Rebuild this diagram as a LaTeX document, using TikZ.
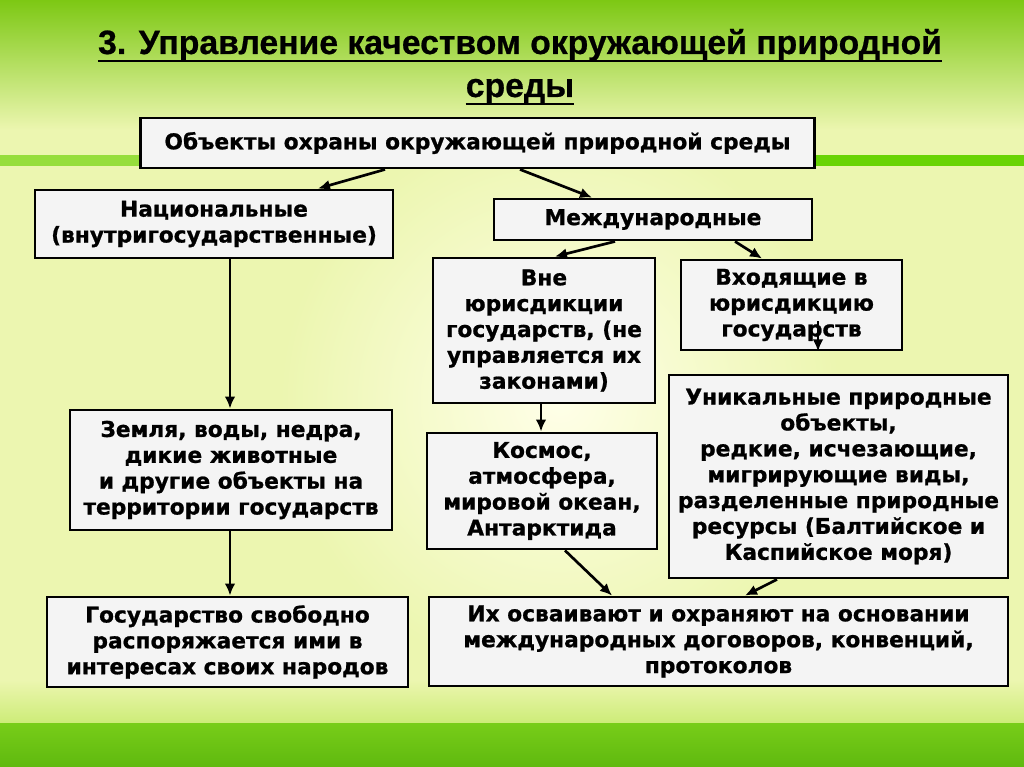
\documentclass[tikz,border=0pt]{standalone}
\usepackage{fontspec}
\usetikzlibrary{arrows.meta,calc}
\newfontfamily\bxfont[BoldFeatures={FakeBold=0.9}]{DejaVu Sans}
\newfontfamily\ttlfont[BoldFeatures={FakeBold=0.6}]{Liberation Sans}
\definecolor{bgbase}{RGB}{236,246,176}
\definecolor{glow}{RGB}{255,255,232}
\definecolor{topg}{RGB}{125,200,20}
\definecolor{topm}{RGB}{195,232,80}
\definecolor{botg1}{RGB}{120,205,25}
\definecolor{botg2}{RGB}{95,185,15}
\definecolor{botm}{RGB}{205,236,120}
\definecolor{bandgreen}{RGB}{105,212,5}
\definecolor{bandleft}{RGB}{150,222,60}
\definecolor{boxfill}{RGB}{244,244,244}
\tikzset{
  box/.style={draw=black, line width=2.2pt, fill=boxfill, align=center,
    font=\bxfont\bfseries\fontsize{16.3}{19.4}\selectfont, inner sep=2pt},
  arr/.style={draw=black, line width=2pt, -{Latex[length=9pt,width=8pt]}},
  ttl/.style={font=\ttlfont\bfseries\fontsize{25.3}{28}\selectfont, inner sep=0pt, anchor=base},
  uline/.style={draw=black, line width=2.2pt},
}
\begin{document}
\begin{tikzpicture}[x=0.75pt,y=-0.75pt]
\useasboundingbox (0,0) rectangle (1024,767);
\begin{scope}
\clip (0,0) rectangle (1024,767);
\fill[bgbase] (0,0) rectangle (1024,767);
\shade[inner color=glow, outer color=bgbase] (560,400) circle (280);
\shade[top color=topg, middle color=topm, bottom color=bgbase] (0,0) rectangle (1024,130);
\shade[top color=bgbase, bottom color=botm] (0,680) rectangle (1024,723);
\shade[top color=botg1, bottom color=botg2] (0,723) rectangle (1024,767);
\fill[bandleft] (0,155) rectangle (400,166);
\fill[bandgreen] (600,155) rectangle (1024,166);
\end{scope}

\node[ttl] (t1) at (520,54) {3. Управление качеством окружающей природной};
\node[ttl] (t2) at (520,97) {среды};
\draw[uline] ($(t1.base west)+(0,7)$) -- ($(t1.base east)+(0,7)$);
\draw[uline] ($(t2.base west)+(0,7)$) -- ($(t2.base east)+(0,7)$);

\node[box, minimum width=506pt, minimum height=37.5pt] (top) at (477.5,143)
  {Объекты охраны окружающей природной среды};
\node[box, minimum width=268.5pt, minimum height=51pt] (nat) at (214,224)
  {Национальные\\(внутригосударственные)};
\node[box, minimum width=238.5pt, minimum height=30.75pt] (intl) at (653,219.5)
  {Международные};
\node[box, minimum width=166.5pt, minimum height=108.75pt] (vne) at (544,330.5)
  {Вне\\юрисдикции\\государств, (не\\управляется их\\законами)};
\node[box, minimum width=165.75pt, minimum height=67.5pt] (vhod) at (791.5,305)
  {Входящие в\\юрисдикцию\\государств};
\node[box, minimum width=241.5pt, minimum height=90pt] (zem) at (231,470)
  {Земля, воды, недра,\\дикие животные\\и другие объекты на\\территории государств};
\node[box, minimum width=172.5pt, minimum height=87pt] (kos) at (542,491)
  {Космос,\\атмосфера,\\мировой океан,\\Антарктида};
\node[box, minimum width=254.25pt, minimum height=152.25pt] (uni) at (838.5,476.5)
  {Уникальные природные\\объекты,\\редкие, исчезающие,\\мигрирующие виды,\\разделенные природные\\ресурсы (Балтийское и\\Каспийское моря)};
\node[box, minimum width=270.75pt, minimum height=67.5pt] (gos) at (227.5,642)
  {Государство свободно\\распоряжается ими в\\интересах своих народов};
\node[box, minimum width=434.25pt, minimum height=66.75pt] (ih) at (718.5,641.5)
  {Их осваивают и охраняют на основании\\международных договоров, конвенций,\\протоколов};

\coordinate (vhodin) at ($(vhod.south)+(26.5,-30)$);

\draw[arr] ($(top.south)+(-92.5,0)$) -- ($(nat.north)+(104,0)$);
\draw[arr] ($(top.south)+(42.5,0)$) -- ($(intl.north)+(-61,0)$);
\draw[arr] ($(intl.south)+(-38,0)$) -- ($(vne.north)+(11,0)$);
\draw[arr] ($(intl.south)+(82,0)$) -- ($(vhod.north)+(-29.5,0)$);
\draw[arr] ($(nat.south)+(16,0)$) -- ($(zem.north)+(-1,0)$);
\draw[arr] ($(zem.south)+(-1,0)$) -- ($(gos.north)+(2.5,0)$);
\draw[arr] ($(vne.south)+(-3,0)$) -- ($(kos.north)+(-1,0)$);
\draw[arr] (vhodin) -- ($(vhod.south)+(26.5,0)$);
\draw[arr] ($(kos.south)+(23,0)$) -- ($(ih.north)+(-106.5,0)$);
\draw[arr] ($(uni.south)+(-61.5,0)$) -- ($(ih.north)+(26.5,0)$);
\end{tikzpicture}
\end{document}
